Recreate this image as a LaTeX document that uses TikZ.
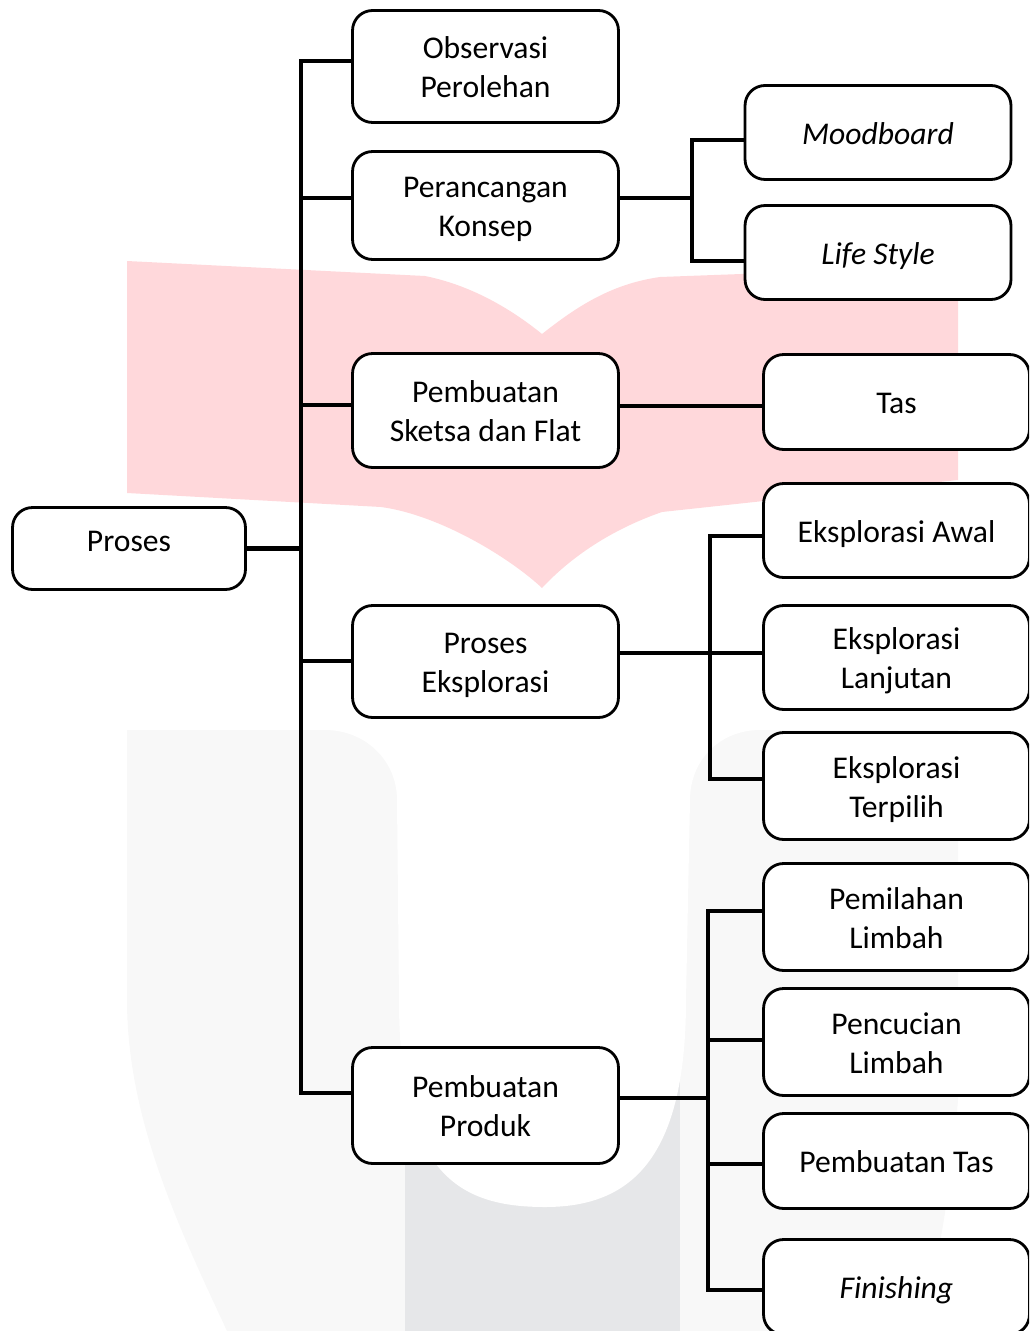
\documentclass[tikz,border=0pt]{standalone}
\usepackage{fontspec}
\setmainfont{Carlito}
\usepackage{tikz}
\definecolor{bookpink}{RGB}{255,216,219}
\definecolor{ulight}{RGB}{248,248,248}
\definecolor{udark}{RGB}{230,231,233}
\newcommand{\twoline}[2]{\rule{0pt}{18pt}#1\\#2\rule[-4.7pt]{0pt}{4.7pt}}
\tikzset{box/.style={draw=black, fill=white, line width=1.6pt, rounded corners=0.4cm,
    minimum width=5.32cm, align=center, inner sep=0pt,
    font=\fontsize{18}{22.4}\selectfont,
    execute at begin node={\rule{0pt}{18pt}},
    execute at end node={\rule[-4.7pt]{0pt}{4.7pt}}}}
\tikzset{con/.style={line width=2.4pt}}

\begin{document}
\begin{tikzpicture}[x=0.02cm, y=-0.02cm]

    \useasboundingbox (0,0) rectangle (1029,1331);
    \clip (0,0) rectangle (1029,1331);

    \fill[bookpink] (127,261) -- (425,276) .. controls (470,285) and (510,308) .. (542,334)
        .. controls (575,308) and (610,284) .. (660,277) -- (958,266) -- (958,480) -- (662,512)
        .. controls (610,530) and (570,558) .. (542,588) .. controls (510,558) and (440,515) .. (381,507)
        -- (127,493) -- cycle;
    \fill[ulight] (127,730) -- (958,730) -- (958,1100) .. controls (950,1200) and (935,1280) .. (919,1331)
        -- (227,1331) .. controls (180,1230) and (127,1120) .. (127,1000) -- cycle;
    \fill[udark] (405,1000) rectangle (680,1331);
    \fill[white] (325,730) .. controls (365,730) and (397,760) .. (397,800) -- (399,1000)
        .. controls (399,1175) and (460,1207) .. (545,1207) .. controls (630,1207) and (686,1160) .. (686,1000)
        -- (690,800) .. controls (690,760) and (720,730) .. (760,730) -- cycle;

    \node[box, minimum width=4.66cm, minimum height=1.64cm, execute at end node={\rule[-14.9pt]{0pt}{14.9pt}}] (P) at (129,548.5) {Proses};
    \node[box, minimum height=2.24cm] (O) at (485.5,66.5) {\twoline{Observasi}{Perolehan}};
    \node[box, minimum height=2.16cm] (K) at (485.5,205.5) {\twoline{Perancangan}{Konsep}};
    \node[box, minimum height=2.28cm] (S) at (485.5,410.5) {\twoline{Pembuatan}{Sketsa dan Flat}};
    \node[box, minimum height=2.24cm] (E) at (485.5,661.5) {\twoline{Proses}{Eksplorasi}};
    \node[box, minimum height=2.32cm] (B) at (485.5,1105.5) {\twoline{Pembuatan}{Produk}};

    \node[box, minimum height=1.88cm] (M) at (878,132.5) {\itshape Moodboard};
    \node[box, minimum height=1.88cm] (L) at (878,252.5) {\itshape Life Style};
    \node[box, minimum height=1.90cm] (T) at (896.5,402) {Tas};
    \node[box, minimum height=1.88cm] (E1) at (896.5,530.5) {Eksplorasi Awal};
    \node[box, minimum height=2.08cm] (E2) at (896.5,657.5) {\twoline{Eksplorasi}{Lanjutan}};
    \node[box, minimum height=2.14cm] (E3) at (896.5,786) {\twoline{Eksplorasi}{Terpilih}};
    \node[box, minimum height=2.14cm] (B1) at (896.5,917) {\twoline{Pemilahan}{Limbah}};
    \node[box, minimum height=2.14cm] (B2) at (896.5,1042) {\twoline{Pencucian}{Limbah}};
    \node[box, minimum height=1.90cm] (B3) at (896.5,1161) {Pembuatan Tas};
    \node[box, minimum height=1.90cm] (B4) at (896.5,1287) {\itshape Finishing};

    \coordinate (t1) at (301,61);
    \coordinate (t2) at (301,198);
    \coordinate (t3) at (301,405);
    \coordinate (t4) at (301,661);
    \coordinate (t5) at (301,1093);
    \coordinate (k) at (692,198);
    \coordinate (k1) at (692,140);
    \coordinate (k2) at (692,261);
    \coordinate (s) at (620,406);
    \coordinate (e) at (710,653);
    \coordinate (e1) at (710,536);
    \coordinate (e3) at (710,779);
    \coordinate (b) at (708,1098);
    \coordinate (b1) at (708,911);
    \coordinate (b2) at (708,1040);
    \coordinate (b3) at (708,1164);
    \coordinate (b4) at (708,1290);

    \draw[con] (P.east) -- (P.east -| t1);
    \draw[con] (O.west |- t1) -- (t1) -- (t5) -- (B.west |- t5);
    \draw[con] (t2) -- (K.west |- t2);
    \draw[con] (t3) -- (S.west |- t3);
    \draw[con] (t4) -- (E.west |- t4);

    \draw[con] (K.east |- k) -- (k);
    \draw[con] (M.west |- k1) -- (k1) -- (k2) -- (L.west |- k2);

    \draw[con] (S.east |- s) -- (T.west |- s);

    \draw[con] (E.east |- e) -- (E2.west |- e);
    \draw[con] (E1.west |- e1) -- (e1) -- (e3) -- (E3.west |- e3);

    \draw[con] (B.east |- b) -- (b);
    \draw[con] (B1.west |- b1) -- (b1) -- (b4) -- (B4.west |- b4);
    \draw[con] (b2) -- (B2.west |- b2);
    \draw[con] (b3) -- (B3.west |- b3);

\end{tikzpicture}
\end{document}
